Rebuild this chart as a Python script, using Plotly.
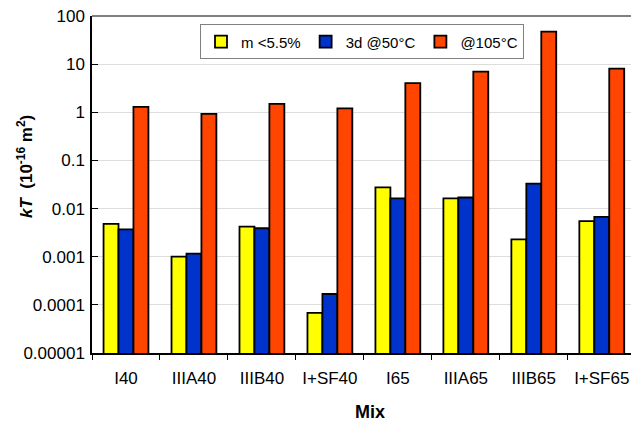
import plotly.graph_objects as go

categories = ["I40", "IIIA40", "IIIB40", "I+SF40", "I65", "IIIA65", "IIIB65", "I+SF65"]
m_lt_55 = [0.0048, 0.0010, 0.0042, 0.000068, 0.0276, 0.0163, 0.0023, 0.0055]
d3_50C = [0.0037, 0.00116, 0.0039, 0.000168, 0.0163, 0.017, 0.033, 0.0067]
at_105C = [1.3, 0.93, 1.5, 1.2, 4.05, 7.0, 47.5, 8.06]
series_names = ["m <5.5%", "3d @50°C", "@105°C"]
tick_vals = [1e-5, 1e-4, 1e-3, 1e-2, 1e-1, 1, 10, 100]
tick_text = ["0.00001", "0.0001", "0.001", "0.01", "0.1", "1", "10", "100"]
decades = [1e-5, 1e-4, 1e-3, 1e-2, 1e-1, 1, 10]
minor_mults = [2, 3, 4, 5, 6, 7, 8, 9]
minor_vals = [d * m for d in decades for m in minor_mults]

FONT = "Liberation Sans, Arial, sans-serif"
W, H = 631, 422
L, T, B = 92, 16, 69

fig = go.Figure()
for name, vals, col in zip(series_names, [m_lt_55, d3_50C, at_105C],
                           ["#FFFF00", "#0033CC", "#FF4500"]):
    fig.add_trace(go.Bar(x=categories, y=vals, name=name,
                         marker=dict(color=col, line=dict(color="black", width=1.8))))

fig.update_layout(
    width=W, height=H,
    margin=dict(l=L, r=0, t=T, b=B, pad=0),
    paper_bgcolor="white", plot_bgcolor="white",
    barmode="group", bargap=0.34, bargroupgap=0,
    font=dict(family=FONT, size=17, color="black"),
    legend=dict(orientation="h", x=(200 - L) / (W - L), y=0.975, xanchor="left", yanchor="top",
                bordercolor="#808080", borderwidth=1, bgcolor="white",
                font=dict(family=FONT, size=15), itemwidth=30),
    xaxis=dict(range=[-0.5, 7.43], showline=True, linecolor="black", linewidth=1.5,
               ticks="outside", ticklen=5, tickcolor="black", tickson="boundaries",
               showgrid=False, ticklabelstandoff=9, tickfont=dict(size=17)),
    yaxis=dict(type="log", range=[-5, 2], showline=True, linecolor="black", linewidth=1.5,
               tickvals=tick_vals, ticktext=tick_text, ticks="inside", ticklen=6,
               tickcolor="black", showgrid=True, gridcolor="#DDDDDD", gridwidth=1,
               ticklabelstandoff=2, tickfont=dict(size=17), zeroline=False),
    yaxis2=dict(type="log", range=[-5, 2], overlaying="y", anchor="x", side="left",
                tickvals=minor_vals, ticks="inside", ticklen=4, tickcolor="black",
                showticklabels=False, showgrid=False, showline=False, zeroline=False),
    showlegend=True,
)

fig.add_shape(type="line", xref="paper", yref="paper", x0=0, x1=1, y0=1, y1=1,
              line=dict(color="#808080", width=2))

pw = W - L
ph = H - T - B
fig.add_annotation(text="<b><i>kT</i>  (10<sup>-16</sup> m<sup>2</sup>)</b>",
                   xref="paper", yref="paper", x=(25 - L) / pw, y=(H - B - 167) / ph,
                   textangle=-90, showarrow=False, font=dict(family=FONT, size=17),
                   xanchor="center", yanchor="middle")
fig.add_annotation(text="<b>Mix</b>", xref="paper", yref="paper",
                   x=(370 - L) / pw, y=(H - B - 412) / ph, showarrow=False,
                   font=dict(family=FONT, size=18), xanchor="center", yanchor="middle")

fig.write_html("out.html")
